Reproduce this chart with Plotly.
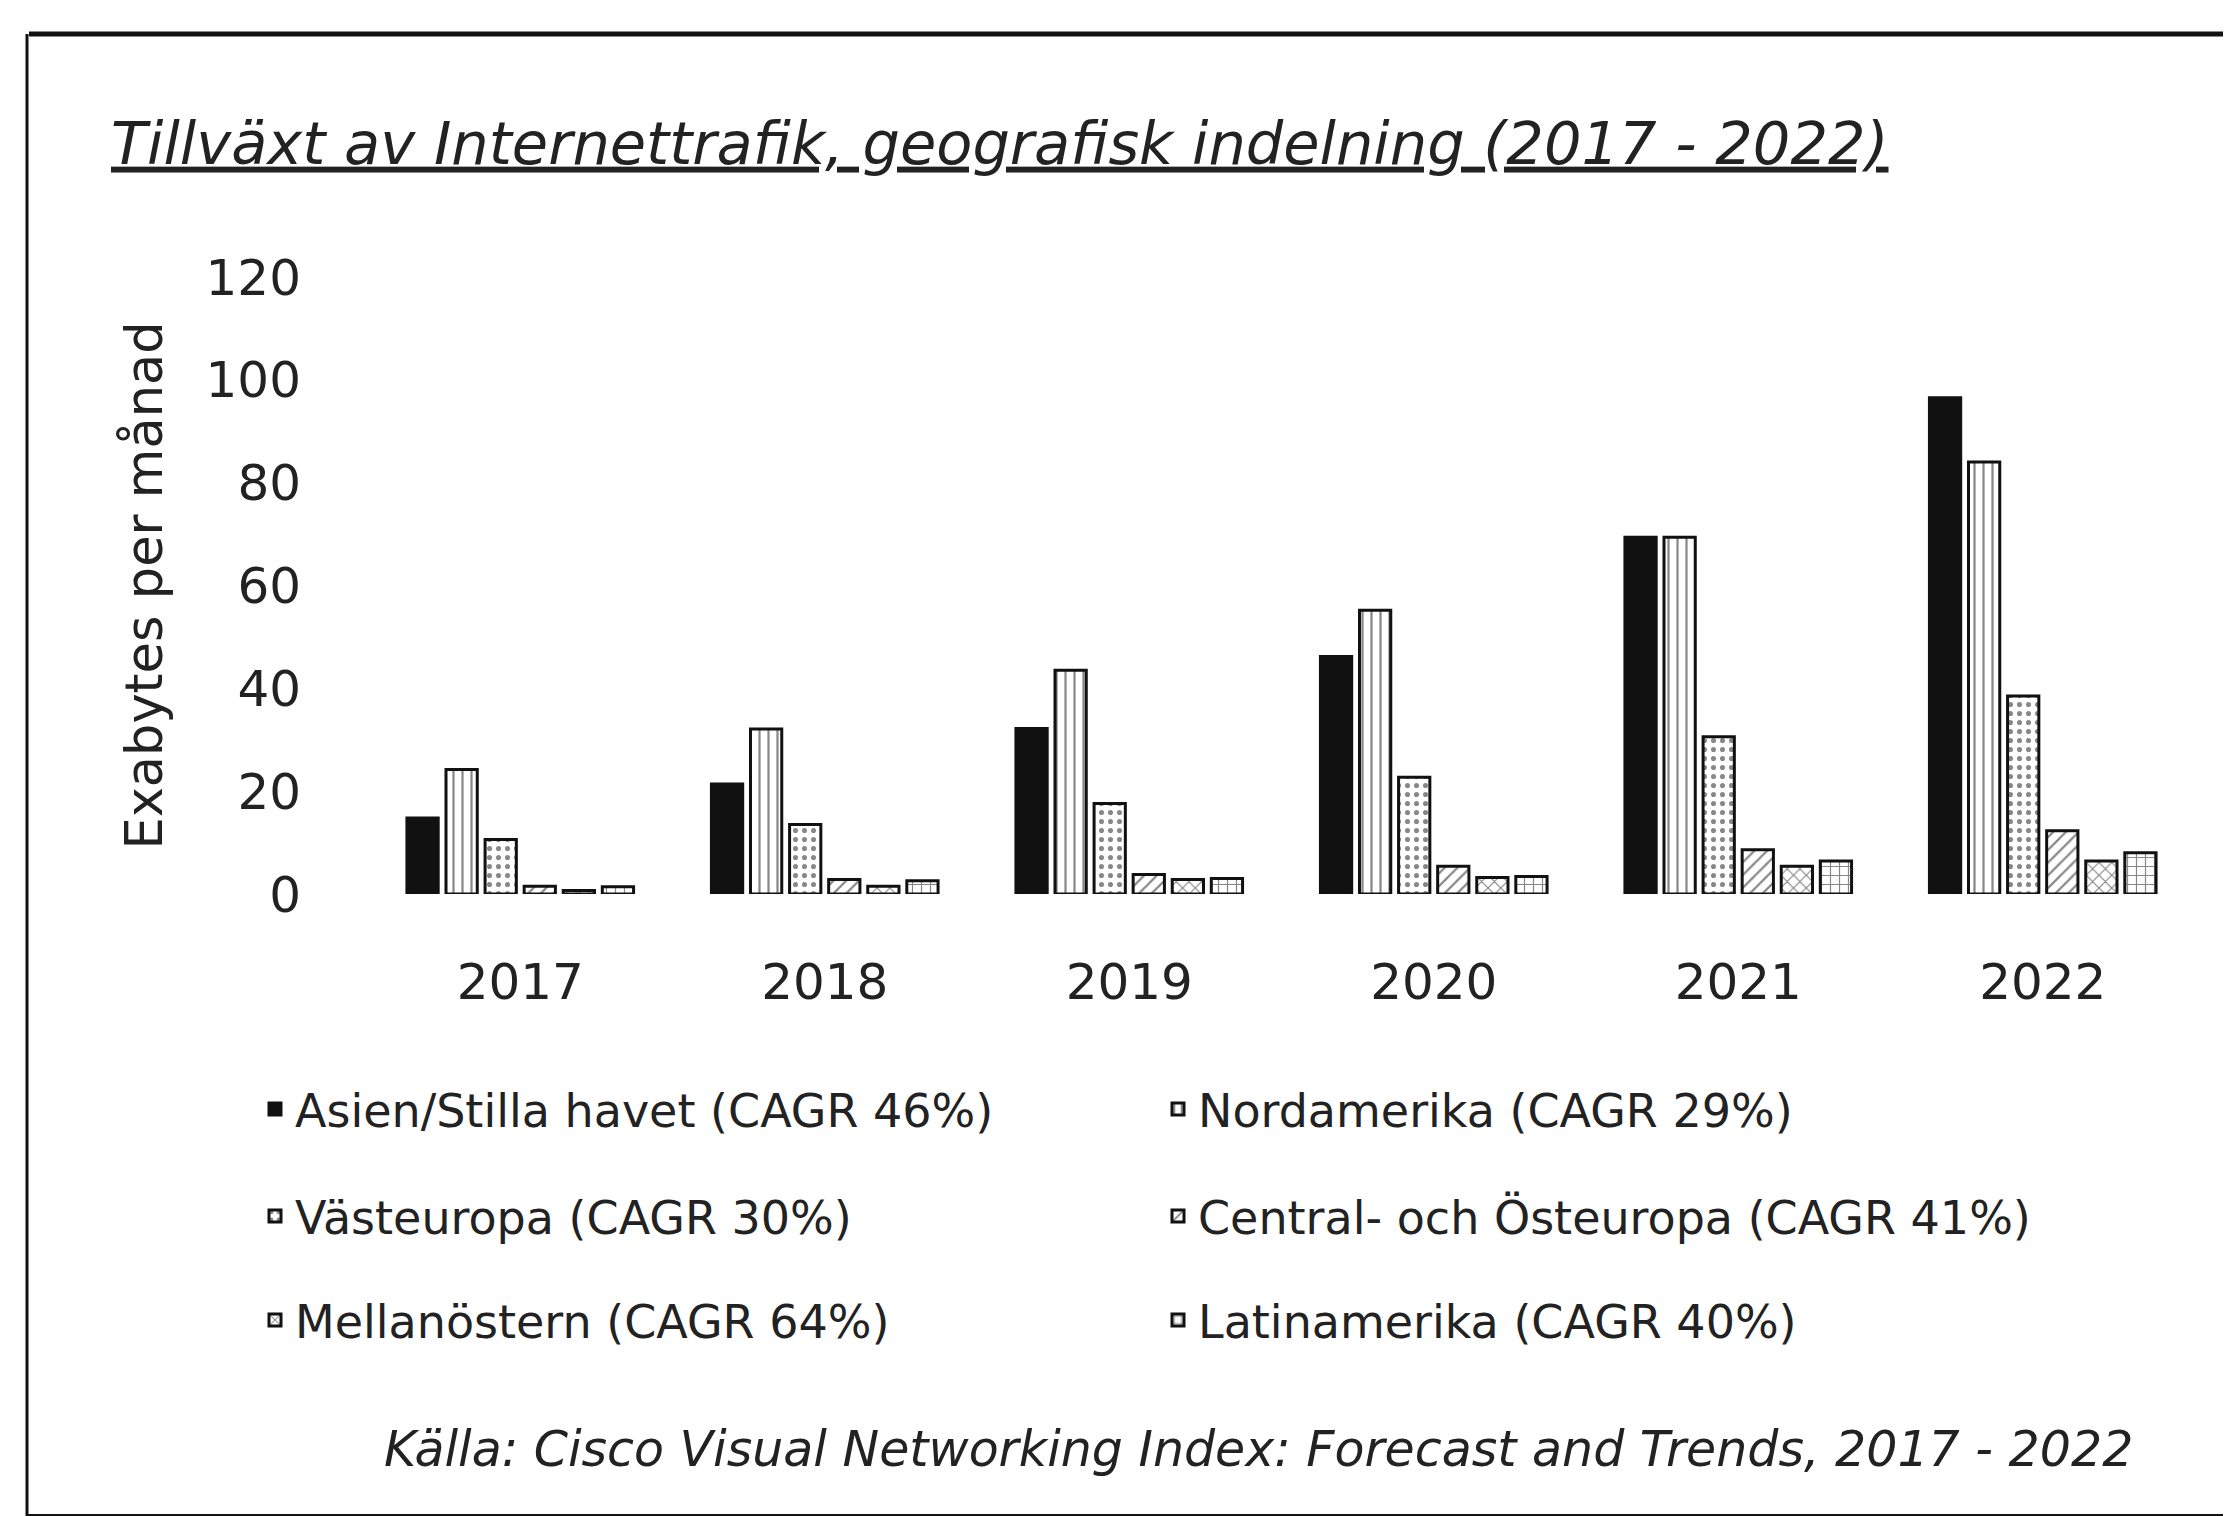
import plotly.graph_objects as go

years = ["2017", "2018", "2019", "2020", "2021", "2022"]
y_ticks = [0, 20, 40, 60, 80, 100, 120]

series_names = [
    "Asien/Stilla havet (CAGR 46%)",
    "Nordamerika (CAGR 29%)",
    "Västeuropa (CAGR 30%)",
    "Central- och Östeuropa (CAGR 41%)",
    "Mellanöstern (CAGR 64%)",
    "Latinamerika (CAGR 40%)",
]
asia = [14.8, 21.4, 32.2, 46.2, 69.4, 96.5]
north_america = [24.2, 32.1, 43.5, 55.2, 69.4, 84.0]
west_europe = [10.6, 13.5, 17.6, 22.7, 30.6, 38.5]
central_east_europe = [1.5, 2.8, 3.8, 5.4, 8.6, 12.3]
middle_east = [0.7, 1.5, 2.8, 3.2, 5.4, 6.4]
latin_america = [1.4, 2.6, 3.0, 3.4, 6.4, 8.0]

values = [asia, north_america, west_europe, central_east_europe, middle_east, latin_america]
patterns = ["", "|", ".", "/", "x", "+"]
fills = ["#111111", "white", "white", "white", "white", "white"]
legends = ["legend", "legend", "legend2", "legend2", "legend3", "legend3"]

FONT = "DejaVu Sans"
TXT = "#222222"

fig = go.Figure()
for name, vals, pat, fill, lg in zip(series_names, values, patterns, fills, legends):
    fig.add_trace(go.Bar(
        x=years, y=vals, name=name, legend=lg,
        marker=dict(
            color=fill,
            line=dict(color="#111111", width=3),
            pattern=dict(shape=pat, fgcolor="#111111", size=9, solidity=0.25),
        ),
    ))

W, H = 2231, 1516
L, R, T, B = 360, 44, 269, 630

def px_x(px):
    return (px - L) / (W - L - R)

def px_y(py):
    return (H - B - py) / (H - T - B)

legend_common = dict(
    orientation="h", xref="container", yref="container",
    x=247 / W, xanchor="left", yanchor="middle",
    entrywidth=858, entrywidthmode="pixels",
    font=dict(family=FONT, size=46, color=TXT),
    bgcolor="rgba(0,0,0,0)", traceorder="normal",
)

fig.update_layout(
    width=W, height=H,
    margin=dict(l=L, r=R, t=T, b=B),
    paper_bgcolor="white", plot_bgcolor="white",
    barmode="group", bargap=0.23, bargroupgap=0.2,
    title=dict(
        text="Tillväxt av Internettrafik, geografisk indelning (2017 - 2022)",
        xref="container", yref="container",
        x=103 / W, xanchor="left", y=1 - 135 / H, yanchor="middle",
        font=dict(family=FONT, size=59, color=TXT, style="italic", lineposition="under"),
    ),
    legend=dict(legend_common, y=1 - 1101 / H),
    legend2=dict(legend_common, y=1 - 1208 / H),
    legend3=dict(legend_common, y=1 - 1312 / H),
    xaxis=dict(
        showline=False, showgrid=False, ticks="",
        tickfont=dict(family=FONT, size=50, color=TXT),
        ticklabelstandoff=54,
    ),
    yaxis=dict(
        range=[0, 120], tickvals=y_ticks,
        showline=False, showgrid=False, zeroline=False, ticks="",
        tickfont=dict(family=FONT, size=50, color=TXT),
        ticklabelstandoff=66,
        title=dict(text="Exabytes per månad", font=dict(family=FONT, size=51, color=TXT), standoff=26),
    ),
)

fig.add_annotation(
    xref="paper", yref="paper", x=px_x(1250), y=px_y(1441),
    text="Källa: Cisco Visual Networking Index: Forecast and Trends, 2017 - 2022",
    showarrow=False, xanchor="center", yanchor="middle",
    font=dict(family=FONT, size=49, color=TXT, style="italic"),
)

# frame lines
frame = [
    (21, 26, 2229, 26, 5),
    (19, 26, 19, 1508, 3),
    (19, 1508, 2229, 1508, 4),
    (2229, 26, 2229, 1508, 3),
]
for x0, y0, x1, y1, w in frame:
    fig.add_shape(type="line", xref="paper", yref="paper",
                  x0=px_x(x0), y0=px_y(y0), x1=px_x(x1), y1=px_y(y1),
                  line=dict(color="#111111", width=w))

fig.write_html("out.html")
